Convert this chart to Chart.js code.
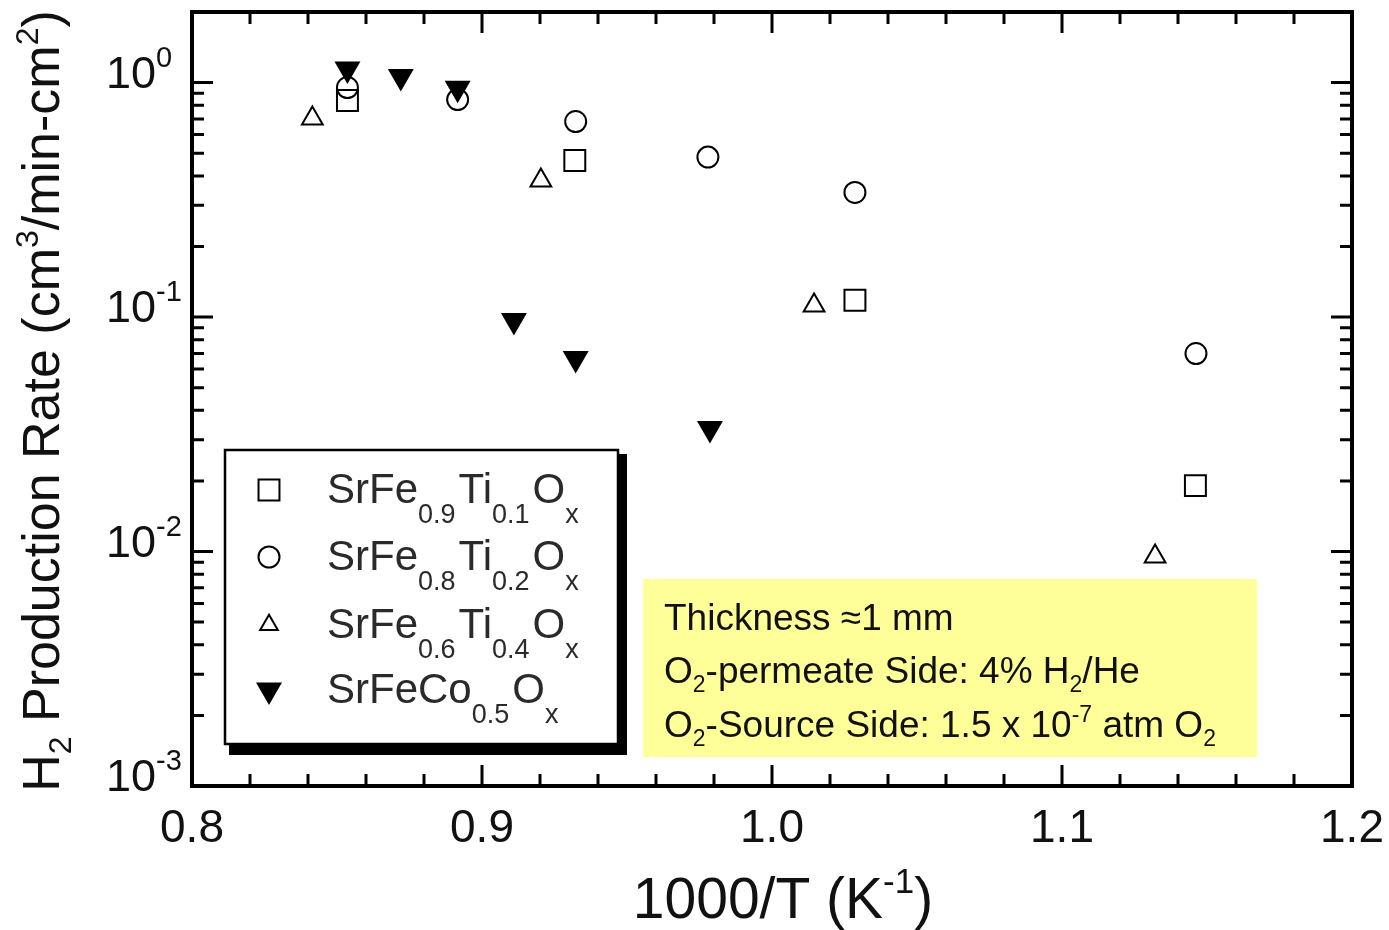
<!DOCTYPE html>
<html>
<head>
<meta charset="utf-8">
<script src="https://cdn.jsdelivr.net/npm/chart.js@4.4.1/dist/chart.umd.min.js"></script>
<style>
body { margin: 0; background: #fff; }
#wrap { width: 1389px; height: 930px; }
</style>
</head>
<body>
<div id="wrap"><canvas id="c"></canvas></div>
<script>
// 1000/T (K^-1) vs H2 production rate (cm3/min-cm2)
var xTi01 = [0.8536, 0.9320, 1.0286, 1.1460];
var yTi01 = [0.838, 0.465, 0.118, 0.0191];
var xTi02 = [0.8536, 0.8916, 0.9323, 0.9779, 1.0286, 1.1462];
var yTi02 = [0.952, 0.846, 0.682, 0.481, 0.340, 0.0699];
var xTi04 = [0.8415, 0.9203, 1.0145, 1.1321];
var yTi04 = [0.702, 0.382, 0.112, 0.00952];
var xCo05 = [0.8536, 0.8720, 0.8916, 0.9110, 0.9323, 0.9786];
var yCo05 = [1.142, 1.061, 0.947, 0.0966, 0.0665, 0.0335];

var xTicks = [0.8, 0.9, 1.0, 1.1, 1.2];
var xTickLabels = ['0.8', '0.9', '1.0', '1.1', '1.2'];
var yTicks = [1, 0.1, 0.01, 0.001];
var yTickExp = ['0', '-1', '-2', '-3'];

var legendRows = [
  [['SrFe', ''], ['0.9', 'sub'], ['Ti', ''], ['0.1', 'sub'], ['O', ''], ['x', 'sub']],
  [['SrFe', ''], ['0.8', 'sub'], ['Ti', ''], ['0.2', 'sub'], ['O', ''], ['x', 'sub']],
  [['SrFe', ''], ['0.6', 'sub'], ['Ti', ''], ['0.4', 'sub'], ['O', ''], ['x', 'sub']],
  [['SrFeCo', ''], ['0.5', 'sub'], ['O', ''], ['x', 'sub']]
];
var noteLines = [
  [['Thickness \u22481 mm', '']],
  [['O', ''], ['2', 'sub'], ['-permeate Side: 4% H', ''], ['2', 'sub'], ['/He', '']],
  [['O', ''], ['2', 'sub'], ['-Source Side: 1.5 x 10', ''], ['-7', 'sup'], [' atm O', ''], ['2', 'sub']]
];
var yTitle = [['H', ''], ['2', 'sub'], [' Production Rate (cm', ''], ['3', 'sup'], ['/min-cm', ''], ['2', 'sup'], [')', '']];
var xTitle = [['1000/T (K', ''], ['-1', 'sup'], [')', '']];

var FONT = '"Liberation Sans", Arial, sans-serif';

function pts(xs, ys) {
  return xs.map(function (x, i) { return { x: x, y: ys[i] }; });
}

var styles = [
  { pointStyle: 'rect', radius: 14.8, rotation: 0, fill: 'rgba(0,0,0,0)', leg: 1 },
  { pointStyle: 'circle', radius: 10.5, rotation: 0, fill: 'rgba(0,0,0,0)', leg: 1 },
  { pointStyle: 'triangle', radius: 12, rotation: 0, fill: 'rgba(0,0,0,0)', leg: 0.85 },
  { pointStyle: 'triangle', radius: 13, rotation: 180, fill: '#000', leg: 1 }
];

function ds(label, data, s) {
  return {
    label: label,
    data: data,
    pointStyle: s.pointStyle,
    pointRadius: s.radius,
    pointRotation: s.rotation,
    pointBackgroundColor: s.fill,
    pointBorderColor: '#000',
    pointBorderWidth: 2,
    showLine: false
  };
}

// text with sub/superscripts
function drawRich(ctx, parts, x, y, o) {
  var w = 0;
  parts.forEach(function (p) {
    ctx.font = (p[1] ? o.small : o.size) + 'px ' + FONT;
    w += ctx.measureText(p[0]).width;
  });
  var cx = o.align === 'center' ? x - w / 2 : x;
  ctx.textAlign = 'left';
  ctx.textBaseline = 'alphabetic';
  parts.forEach(function (p) {
    ctx.font = (p[1] ? o.small : o.size) + 'px ' + FONT;
    var dy = p[1] === 'sub' ? o.sub : (p[1] === 'sup' ? o.sup : 0);
    ctx.fillText(p[0], cx, y + dy);
    cx += ctx.measureText(p[0]).width + (p[1] ? (o.gap || 0) : 0);
  });
}

var frame = {
  id: 'frame',
  afterDraw: function (chart) {
    var ctx = chart.ctx, a = chart.chartArea;
    var sx = chart.scales.x, sy = chart.scales.y;
    ctx.save();
    ctx.strokeStyle = '#000';

    // inside ticks on all four sides
    ctx.lineWidth = 3;
    ctx.beginPath();
    for (var i = 0; i <= 20; i++) {
      var px = sx.getPixelForValue(0.8 + i * 0.02);
      var len = i % 5 === 0 ? 21 : 12;
      ctx.moveTo(px, a.bottom); ctx.lineTo(px, a.bottom - len);
      ctx.moveTo(px, a.top); ctx.lineTo(px, a.top + len);
    }
    for (var e = -3; e <= 0; e++) {
      for (var k = 1; k <= 9; k++) {
        var v = k * Math.pow(10, e);
        if (v > 2) break;
        var py = sy.getPixelForValue(v);
        var l2 = k === 1 ? 21 : 12;
        ctx.moveTo(a.left, py); ctx.lineTo(a.left + l2, py);
        ctx.moveTo(a.right, py); ctx.lineTo(a.right - l2, py);
      }
    }
    ctx.stroke();

    ctx.lineWidth = 4;
    ctx.strokeRect(a.left, a.top, a.right - a.left, a.bottom - a.top);

    // tick labels
    ctx.fillStyle = '#111';
    ctx.font = '46px ' + FONT;
    ctx.textAlign = 'center';
    ctx.textBaseline = 'alphabetic';
    xTicks.forEach(function (v, i) {
      ctx.fillText(xTickLabels[i], sx.getPixelForValue(v), 842);
    });
    yTicks.forEach(function (v, i) {
      var py = sy.getPixelForValue(v);
      drawRich(ctx, [['10', ''], [yTickExp[i], 'sup']], 106, py + 5,
        { size: 45, small: 29, sub: 0, sup: -21 });
    });

    // axis titles
    drawRich(ctx, xTitle, 783, 918, { size: 57, small: 35, sub: 0, sup: -25, align: 'center' });
    ctx.save();
    ctx.translate(59, (a.top + a.bottom) / 2 + 2);
    ctx.rotate(-Math.PI / 2);
    drawRich(ctx, yTitle, 0, 0, { size: 52, small: 32, sub: 12, sup: -21, align: 'center' });
    ctx.restore();

    // legend box with drop shadow
    ctx.fillStyle = '#000';
    ctx.fillRect(229, 454, 398, 301);
    ctx.fillStyle = '#fff';
    ctx.fillRect(225, 450, 393, 294);
    ctx.lineWidth = 2.5;
    ctx.strokeRect(225, 450, 393, 294);
    var rowsY = [490, 557, 625, 690];
    chart.data.datasets.forEach(function (d, i) {
      var s = styles[i];
      ctx.strokeStyle = '#000';
      ctx.fillStyle = s.fill;
      ctx.lineWidth = 2;
      Chart.helpers.drawPoint(ctx, { pointStyle: s.pointStyle, radius: s.radius * s.leg, rotation: s.rotation, borderWidth: 2 }, 269, rowsY[i]);
      ctx.fillStyle = '#2a2a2a';
      drawRich(ctx, legendRows[i], 327, rowsY[i] + 13, { size: 42, small: 27, sub: 20, sup: 0, gap: 3 });
    });

    // condition note
    ctx.fillStyle = 'rgb(255,255,153)';
    ctx.fillRect(643, 579, 614, 178);
    ctx.fillStyle = '#111';
    var base = [630, 683, 737];
    noteLines.forEach(function (ln, i) {
      drawRich(ctx, ln, 664, base[i], { size: 37, small: 23, sub: 9, sup: -15 });
    });
    ctx.restore();
  }
};

new Chart(document.getElementById('c'), {
  type: 'scatter',
  data: {
    datasets: [
      ds('SrFe0.9Ti0.1Ox', pts(xTi01, yTi01), styles[0]),
      ds('SrFe0.8Ti0.2Ox', pts(xTi02, yTi02), styles[1]),
      ds('SrFe0.6Ti0.4Ox', pts(xTi04, yTi04), styles[2]),
      ds('SrFeCo0.5Ox', pts(xCo05, yCo05), styles[3])
    ]
  },
  options: {
    responsive: true,
    maintainAspectRatio: false,
    animation: false,
    layout: { autoPadding: false, padding: { left: 192, right: 37, top: 12, bottom: 144 } },
    plugins: { legend: { display: false }, tooltip: { enabled: false } },
    scales: {
      x: {
        type: 'linear', min: 0.8, max: 1.2,
        ticks: { display: false },
        grid: { display: false, drawTicks: false },
        border: { display: false }
      },
      y: {
        type: 'logarithmic', min: 0.001, max: 2,
        ticks: { display: false },
        grid: { display: false, drawTicks: false },
        border: { display: false }
      }
    }
  },
  plugins: [frame]
});
</script>
</body>
</html>
